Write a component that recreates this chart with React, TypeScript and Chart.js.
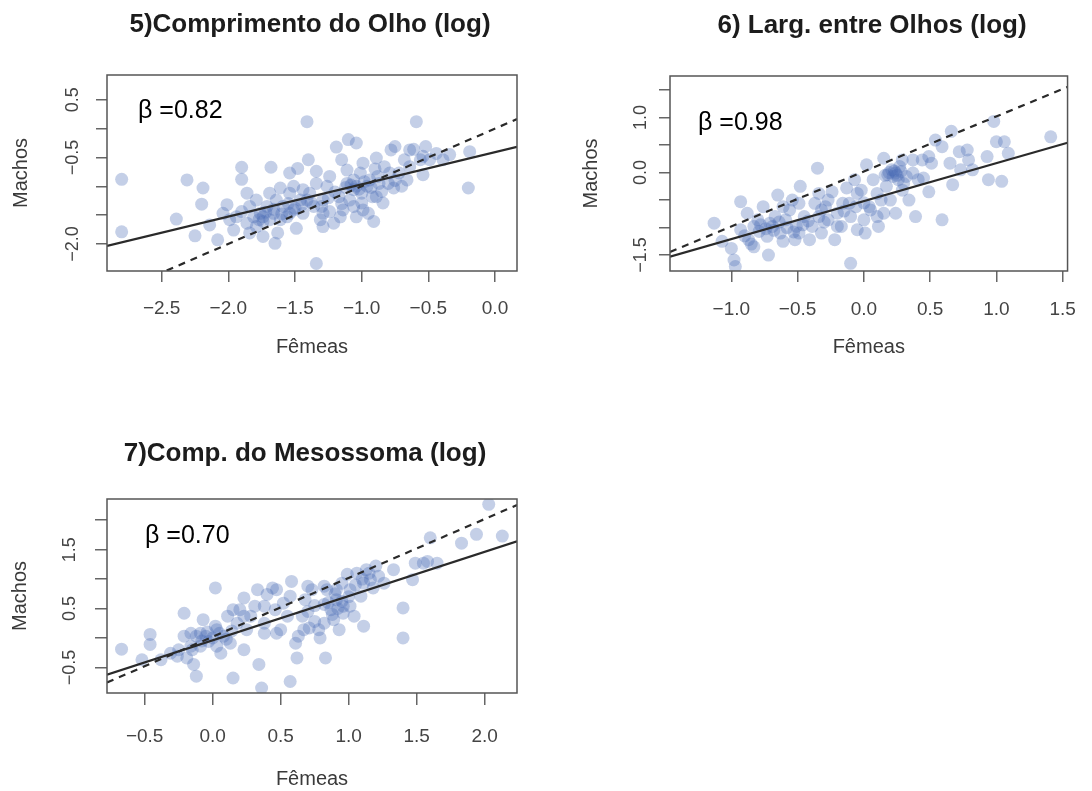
import React, { useEffect, useRef } from "react";
import { Chart, registerables } from "chart.js";

Chart.register(...registerables);
Chart.defaults.font.family = "'Liberation Sans', Arial, sans-serif";

// ---------- Panel 5: Comprimento do Olho (log) ----------
const eyeLenFemales = [
  -2.8, -2.8, -2.39, -2.31, -2.25, -2.19, -2.2, -2.14, -2.08, -2.04,
  -2.01, -1.99, -1.96, -1.9, -1.9, -1.9, -1.86, -1.84, -1.81, -1.79,
  -1.76, -1.74, -1.71, -1.69, -1.68, -1.66, -1.65, -1.63, -1.61, -1.59,
  -1.56, -1.54, -1.51, -1.49, -1.48, -1.46, -1.44, -1.41, -1.4, -1.39,
  -1.36, -1.34, -1.34, -1.31, -1.29, -1.26, -1.24, -1.21, -1.19, -1.17,
  -1.15, -1.14, -1.11, -1.1, -1.09, -1.06, -1.04, -1.04, -1.01, -1.0,
  -0.99, -0.96, -0.95, -0.92, -0.91, -0.89, -0.88, -0.85, -0.83, -0.8,
  -0.78, -0.76, -0.75, -0.72, -0.7, -0.68, -0.64, -0.61, -0.59, -0.56,
  -0.54, -0.52, -0.49, -0.44, -0.39, -0.34, -0.2, -0.19, -0.89, -1.24,
  -1.54, -1.41, -1.16, -1.29, -1.79, -1.64, -1.74, -1.34, -1.06, -0.99,
  -0.84, -1.11, -1.44, -1.51, -1.86, -1.94, -1.61, -1.84, -0.66, -0.79,
  -0.64, -0.54, -1.74, -1.69, -1.77, -1.54, -1.29, -1.06, -1.04, -0.94,
  -1.72, -1.66, -1.6, -1.55, -1.5, -1.45, -1.38, -1.3, -1.25, -1.2,
  -1.12, -1.08, -1.02, -0.98, -0.93, -0.87, -1.15, -1.0, -0.9, -0.75,
];
const eyeLenMales = [
  -0.88, -1.79, -1.57, -0.89, -1.86, -1.03, -1.31, -1.67, -1.93, -1.47,
  -1.32, -1.58, -1.76, -0.67, -0.88, -1.44, -1.64, -1.35, -1.53, -1.24,
  -1.47, -1.61, -1.35, -1.12, -0.67, -1.47, -1.99, -1.81, -1.03, -1.35,
  -1.53, -1.12, -1.41, -1.73, -0.69, -1.24, -1.47, 0.12, -0.54, -1.12,
  -1.35, -0.74, -2.34, -1.58, -1.24, -1.0, -1.44, -1.64, -0.32, -1.18,
  -0.54, -1.41, -0.95, -0.19, -1.24, -1.06, -0.25, -1.53, -0.77, -1.29,
  -0.6, -1.0, -1.47, -1.18, -1.61, -0.51, -0.83, -1.09, -0.66, -0.95,
  -0.37, -1.03, -0.31, -0.77, -1.0, -0.54, -0.66, -0.36, 0.12, -0.54,
  -0.8, -0.31, -0.54, -0.43, -0.54, -0.45, -1.03, -0.4, -1.18, -0.83,
  -0.77, -1.24, -1.53, -1.7, -1.7, -1.24, -1.87, -0.95, -1.35, -1.41,
  -1.29, -0.72, -1.06, -1.0, -1.12, -1.53, -1.58, -1.81, -0.89, -0.77,
  -0.37, -0.48, -1.53, -1.58, -1.58, -1.47, -1.47, -0.89, -1.0, -0.89,
  -1.45, -1.4, -1.48, -1.3, -1.38, -1.32, -1.28, -1.35, -1.2, -1.1,
  -1.02, -0.98, -1.05, -0.92, -1.02, -0.95, -1.3, -1.12, -0.7, -0.9,
];
const eyeLenFit = { intercept: -0.408, slope: 0.559 };
const eyeLenIso = { intercept: 0.0, slope: 1.0 };
const eyeLenXTicks = [-2.5, -2.0, -1.5, -1.0, -0.5, 0.0];
const eyeLenXLabels = [-2.5, -2.0, -1.5, -1.0, -0.5, 0.0];
const eyeLenYTicks = [0.5, 0.0, -0.5, -1.0, -1.5, -2.0];
const eyeLenYLabels = [0.5, -0.5, -2.0];

// ---------- Panel 6: Larg. entre Olhos (log) ----------
const eyeGapFemales = [
  -1.13, -1.07, -0.98, -0.97, -0.93, -1.0, -0.93, -0.88, -0.87, -0.83,
  -0.79, -0.76, -0.73, -0.72, -0.71, -0.67, -0.65, -0.63, -0.61, -0.59,
  -0.56, -0.52, -0.51, -0.49, -0.48, -0.45, -0.41, -0.39, -0.37, -0.35,
  -0.34, -0.32, -0.29, -0.27, -0.24, -0.22, -0.2, -0.17, -0.16, -0.13,
  -0.1, -0.1, -0.06, -0.05, -0.02, 0.0, 0.01, 0.02, 0.04, 0.07,
  0.1, 0.11, 0.13, 0.15, 0.17, 0.18, 0.21, 0.22, 0.24, 0.26,
  0.27, 0.29, 0.32, 0.34, 0.37, 0.39, 0.41, 0.44, 0.49, 0.51,
  0.59, 0.65, 0.66, 0.67, 0.72, 0.78, 0.79, 0.93, 0.94, 0.98,
  1.0, 1.04, 1.06, 1.09, 1.41, 0.24, 0.2, 0.15, 0.1, 0.37,
  0.49, -0.07, 0.29, 0.82, -0.54, -0.34, -0.11, -0.8, -0.69, -0.49,
  -0.27, -0.05, 0.05, 0.54, -0.83, -0.61, -0.2, -0.32, 0.59, 0.73,
  -0.78, -0.74, -0.68, -0.64, -0.58, -0.53, -0.46, -0.42, 0.16, 0.19,
  0.23, 0.25, 0.28, -0.3, -0.15, 0.0, 0.3, -0.9, -0.85, 0.45,
];
const eyeGapMales = [
  -0.92, -1.25, -1.59, -1.71, -0.53, -1.38, -1.04, -0.74, -1.22, -0.98,
  -1.07, -0.62, -1.16, -1.5, -0.92, -0.8, -0.41, -1.1, -1.25, -0.86,
  -0.68, -1.22, -0.98, -0.56, -0.25, -0.8, -1.22, -0.98, -0.56, 0.08,
  -0.8, -1.1, -0.62, -0.86, -0.35, -1.22, -0.74, -0.98, -0.56, -0.28,
  -1.65, -0.8, -0.62, -1.04, -0.32, -0.86, -1.1, 0.14, -0.62, -0.13,
  -0.8, -0.98, -0.5, 0.26, -0.25, -0.04, 0.05, -0.07, -0.01, -0.13,
  0.11, -0.32, -0.07, -0.5, -0.01, -0.8, -0.13, 0.23, -0.35, 0.17,
  -0.86, 0.17, 0.75, -0.22, 0.38, 0.41, 0.23, 0.29, -0.13, 0.93,
  0.56, -0.16, 0.56, 0.35, 0.65, -0.74, -0.5, -0.74, -0.38, 0.23,
  0.29, -0.13, 0.23, 0.05, -0.5, -0.38, -0.56, -0.86, -0.98, -1.1,
  -0.5, -0.38, -0.68, 0.59, -1.35, -0.62, -0.98, -0.68, 0.47, 0.05,
  -0.95, -1.02, -1.05, -0.9, -1.0, -1.08, -0.95, -0.88, -0.05, 0.0,
  0.03, -0.05, 0.02, -0.9, -0.7, -0.55, -0.2, -1.15, -1.3, -0.1,
];
const eyeGapFit = { intercept: -0.52, slope: 0.69 };
const eyeGapIso = { intercept: 0.02, slope: 1.0 };
const eyeGapXTicks = [-1.0, -0.5, 0.0, 0.5, 1.0, 1.5];
const eyeGapXLabels = [-1.0, -0.5, 0.0, 0.5, 1.0, 1.5];
const eyeGapYTicks = [1.5, 1.0, 0.5, 0.0, -0.5, -1.0, -1.5];
const eyeGapYLabels = [1.0, 0.0, -1.5];

// ---------- Panel 7: Comp. do Mesossoma (log) ----------
const mesoFemales = [
  -0.67, -0.52, -0.46, -0.46, -0.38, -0.31, -0.26, -0.21, -0.21, -0.19,
  -0.16, -0.14, -0.12, -0.12, -0.09, -0.07, -0.05, -0.03, 0.02, 0.02,
  0.03, 0.06, 0.08, 0.11, 0.13, 0.15, 0.18, 0.2, 0.23, 0.23,
  0.25, 0.28, 0.31, 0.34, 0.36, 0.38, 0.4, 0.44, 0.46, 0.5,
  0.52, 0.57, 0.57, 0.58, 0.61, 0.62, 0.63, 0.66, 0.68, 0.71,
  0.73, 0.75, 0.78, 0.79, 0.82, 0.83, 0.84, 0.87, 0.89, 0.91,
  0.93, 0.95, 0.96, 0.99, 1.01, 1.04, 1.06, 1.09, 1.11, 1.13,
  1.16, 1.2, 1.22, 1.26, 1.33, 1.4, 1.4, 1.47, 1.49, 1.55,
  1.6, 1.65, 1.83, 1.94, 2.03, 2.13, 1.58, 0.47, 0.7, 0.82,
  0.91, 0.96, 0.33, 0.15, 0.03, 0.23, 0.38, 0.55, 1.01, 1.11,
  0.82, 0.67, 0.47, 0.38, -0.09, -0.16,
  -0.08, -0.04, 0.0, 0.05, 0.1, 0.14, -0.15, -0.25, 0.85, 0.9,
  0.95, 1.0, 1.05, 1.1, 1.15, 1.18, 0.75, 0.7, 0.88, 0.92,
];
const mesoMales = [
  -0.19, -0.37, 0.06, -0.11, -0.37, -0.26, -0.31, 0.42, 0.03, -0.34,
  -0.14, -0.45, 0.03, -0.65, -0.14, 0.31, 0.03, -0.06, 0.85, 0.2,
  -0.14, -0.26, 0.03, 0.37, -0.09, -0.68, 0.25, 0.48, 0.68, -0.2,
  0.14, 0.37, 0.54, -0.45, -0.85, 0.25, 0.74, 0.85, 0.48, 0.14,
  0.59, -0.74, 0.71, 0.96, -0.09, -0.34, 0.03, 0.37, 0.65, 0.17,
  0.82, 0.28, 0.14, 0.0, 0.57, -0.34, 0.82, 0.48, 0.31, 0.65,
  0.14, 0.93, 0.42, 1.08, 0.82, 0.37, 1.1, 0.71, 0.2, 1.16,
  0.99, 1.22, 1.05, 0.93, 1.16, 0.51, 0.0, 0.99, 1.27, 1.27,
  1.7, 1.27, 1.61, 1.76, 2.27, 1.73, 1.3, 0.82, 0.88, 0.88,
  0.82, 0.54, 0.82, 0.48, 0.14, 0.37, 0.54, 0.37, 0.54, 0.93,
  0.25, 0.14, 0.08, 0.08, 0.08, 0.08,
  -0.05, 0.1, 0.0, 0.08, -0.02, 0.12, -0.2, -0.2, 0.6, 0.75,
  0.62, 0.7, 0.9, 1.0, 1.1, 0.85, 0.55, 0.45, 0.4, 0.5,
];
const mesoFit = { intercept: -0.04, slope: 0.751 };
const mesoIso = { intercept: 0.02, slope: 1.0 };
const mesoXTicks = [-0.5, 0.0, 0.5, 1.0, 1.5, 2.0];
const mesoXLabels = [-0.5, 0.0, 0.5, 1.0, 1.5, 2.0];
const mesoYTicks = [2.0, 1.5, 1.0, 0.5, 0.0, -0.5];
const mesoYLabels = [1.5, 0.5, -0.5];

const titles = [
  "5)Comprimento do Olho (log)",
  "6) Larg. entre Olhos (log)",
  "7)Comp. do Mesossoma (log)",
];
const betaLabels = ["\u03B2 =0.82", "\u03B2 =0.98", "\u03B2 =0.70"];
const xAxisTitle = "F\u00EAmeas";
const yAxisTitle = "Machos";

const POINT_COLOR = "rgba(70,105,180,0.32)";
const LINE_COLOR = "#2a2a2a";
const FONT = "'Liberation Sans', Arial, sans-serif";

type Line = { intercept: number; slope: number };

type Spec = {
  left: number;
  top: number;
  w: number;
  h: number;
  pad: { left: number; top: number; right: number; bottom: number };
  yAxisW: number;
  xAxisH: number;
  xMin: number;
  xMax: number;
  yMin: number;
  yMax: number;
  females: number[];
  males: number[];
  fit: Line;
  iso: Line;
  xTicks: number[];
  xLabels: number[];
  yTicks: number[];
  yLabels: number[];
  tickLen: number;
  xTickPad: number;
  yTickPad: number;
  yTitlePad: number;
  xTitlePad: number;
  title: string;
  titleX: number;
  titleY: number;
  beta: string;
  betaDx: number;
  betaDy: number;
};

const fmt = (v: number) =>
  (v < -1e-9 ? "\u2212" : "") + Math.abs(v).toFixed(1);
const has = (arr: number[], v: number) => arr.some((a) => Math.abs(a - v) < 1e-9);

const decorPlugin = {
  id: "decor",
  afterDraw(chart: any, _args: any, opts: any) {
    const { ctx, chartArea: ca } = chart;
    ctx.save();
    ctx.strokeStyle = "#555";
    ctx.lineWidth = 1.5;
    ctx.strokeRect(ca.left, ca.top, ca.right - ca.left, ca.bottom - ca.top);
    ctx.fillStyle = "#1c1c1c";
    ctx.font = `bold 26px ${FONT}`;
    ctx.textAlign = "center";
    ctx.textBaseline = "middle";
    ctx.fillText(opts.title, opts.titleX, opts.titleY);
    ctx.fillStyle = "#000";
    ctx.font = `25px ${FONT}`;
    ctx.textAlign = "left";
    ctx.fillText(opts.beta, ca.left + opts.betaDx, ca.top + opts.betaDy);
    ctx.restore();
  },
};

function Panel({ spec }: { spec: Spec }) {
  const ref = useRef<HTMLCanvasElement>(null);
  useEffect(() => {
    const s = spec;
    const lineData = (l: Line) => [
      { x: s.xMin, y: l.intercept + l.slope * s.xMin },
      { x: s.xMax, y: l.intercept + l.slope * s.xMax },
    ];
    const grid = {
      display: true,
      drawOnChartArea: false,
      drawTicks: true,
      tickLength: s.tickLen,
      color: "#666",
      lineWidth: 1.5,
    };
    const chart = new Chart(ref.current as HTMLCanvasElement, {
      type: "scatter",
      data: {
        datasets: [
          {
            type: "line",
            data: lineData(s.fit),
            borderColor: LINE_COLOR,
            borderWidth: 2.2,
            pointRadius: 0,
            fill: false,
            order: 0,
          } as any,
          {
            type: "line",
            data: lineData(s.iso),
            borderColor: LINE_COLOR,
            borderWidth: 2.2,
            borderDash: [7, 6],
            pointRadius: 0,
            fill: false,
            order: 1,
          } as any,
          {
            type: "scatter",
            data: s.females.map((x, i) => ({ x, y: s.males[i] })),
            pointRadius: 6.5,
            pointBackgroundColor: POINT_COLOR,
            pointBorderWidth: 0,
            order: 2,
          } as any,
        ],
      },
      options: {
        animation: false,
        responsive: false,
        events: [],
        layout: { padding: s.pad, autoPadding: false } as any,
        plugins: {
          legend: { display: false },
          tooltip: { enabled: false },
          decor: {
            title: s.title,
            titleX: s.titleX,
            titleY: s.titleY,
            beta: s.beta,
            betaDx: s.betaDx,
            betaDy: s.betaDy,
          },
        } as any,
        scales: {
          x: {
            type: "linear",
            min: s.xMin,
            max: s.xMax,
            afterBuildTicks: (sc: any) => {
              sc.ticks = s.xTicks.map((v) => ({ value: v }));
            },
            afterFit: (sc: any) => {
              sc.height = s.xAxisH;
            },
            ticks: {
              autoSkip: false,
              maxRotation: 0,
              minRotation: 0,
              padding: s.xTickPad,
              color: "#444",
              font: { size: 19 },
              callback: (v: any) => (has(s.xLabels, Number(v)) ? fmt(Number(v)) : ""),
            },
            grid,
            border: { display: false },
            title: {
              display: true,
              text: xAxisTitle,
              color: "#3a3a3a",
              font: { size: 20 },
              padding: { top: 0, bottom: s.xTitlePad },
            },
          },
          y: {
            type: "linear",
            min: s.yMin,
            max: s.yMax,
            afterBuildTicks: (sc: any) => {
              sc.ticks = s.yTicks.map((v) => ({ value: v }));
            },
            afterFit: (sc: any) => {
              sc.width = s.yAxisW;
            },
            ticks: {
              autoSkip: false,
              minRotation: 90,
              maxRotation: 90,
              crossAlign: "center",
              padding: s.yTickPad,
              color: "#444",
              font: { size: 18 },
              callback: (v: any) => (has(s.yLabels, Number(v)) ? fmt(Number(v)) : ""),
            },
            grid,
            border: { display: false },
            title: {
              display: true,
              text: yAxisTitle,
              color: "#3a3a3a",
              font: { size: 20 },
              padding: { top: s.yTitlePad, bottom: 0 },
            },
          },
        },
      } as any,
      plugins: [decorPlugin as any],
    });
    return () => chart.destroy();
  }, [spec]);
  return (
    <canvas
      ref={ref}
      width={spec.w}
      height={spec.h}
      style={{
        position: "absolute",
        left: spec.left,
        top: spec.top,
        width: spec.w,
        height: spec.h,
        display: "block",
      }}
    />
  );
}

const specs: Spec[] = [
  {
    left: 0, top: 0, w: 546, h: 380,
    pad: { left: 0, top: 75, right: 29, bottom: 0 },
    yAxisW: 107, xAxisH: 109,
    xMin: -2.91, xMax: 0.165, yMin: -2.47, yMax: 0.93,
    females: eyeLenFemales, males: eyeLenMales, fit: eyeLenFit, iso: eyeLenIso,
    xTicks: eyeLenXTicks, xLabels: eyeLenXLabels, yTicks: eyeLenYTicks, yLabels: eyeLenYLabels,
    tickLen: 11, xTickPad: 15, yTickPad: 5, yTitlePad: 9, xTitlePad: 21,
    title: titles[0], titleX: 310, titleY: 25,
    beta: betaLabels[0], betaDx: 31, betaDy: 36,
  },
  {
    left: 546, top: 0, w: 546, h: 380,
    pad: { left: 0, top: 76, right: 12, bottom: 0 },
    yAxisW: 124, xAxisH: 109,
    xMin: -1.463, xMax: 1.537, yMin: -1.79, yMax: 1.755,
    females: eyeGapFemales, males: eyeGapMales, fit: eyeGapFit, iso: eyeGapIso,
    xTicks: eyeGapXTicks, xLabels: eyeGapXLabels, yTicks: eyeGapYTicks, yLabels: eyeGapYLabels,
    tickLen: 11, xTickPad: 16, yTickPad: 0, yTitlePad: 33, xTitlePad: 21,
    title: titles[1], titleX: 326, titleY: 26,
    beta: betaLabels[1], betaDx: 28, betaDy: 47,
  },
  {
    left: 0, top: 430, w: 546, h: 361,
    pad: { left: 0, top: 69, right: 29, bottom: 0 },
    yAxisW: 107, xAxisH: 98,
    xMin: -0.777, xMax: 2.238, yMin: -0.935, yMax: 2.36,
    females: mesoFemales, males: mesoMales, fit: mesoFit, iso: mesoIso,
    xTicks: mesoXTicks, xLabels: mesoXLabels, yTicks: mesoYTicks, yLabels: mesoYLabels,
    tickLen: 12, xTickPad: 20, yTickPad: 7, yTitlePad: 8, xTitlePad: 0,
    title: titles[2], titleX: 305, titleY: 24,
    beta: betaLabels[2], betaDx: 38, betaDy: 37,
  },
];

export default function App() {
  return (
    <div
      style={{
        position: "absolute",
        left: 0,
        top: 0,
        width: 1092,
        height: 791,
        background: "#fff",
        overflow: "hidden",
      }}
    >
      {specs.map((s, i) => (
        <Panel key={i} spec={s} />
      ))}
    </div>
  );
}
